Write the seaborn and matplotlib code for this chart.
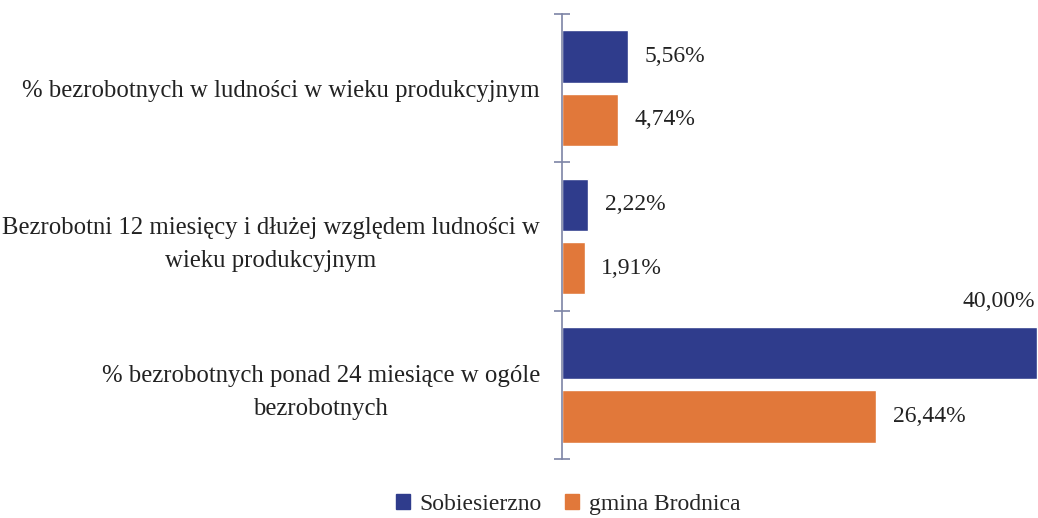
import pandas as pd
import matplotlib.pyplot as plt
import seaborn as sns
import numpy as np
from matplotlib.patches import Patch

categories = [
    "% bezrobotnych w ludności w wieku produkcyjnym",
    "Bezrobotni 12 miesięcy i dłużej względem ludności w\nwieku produkcyjnym",
    "% bezrobotnych ponad 24 miesiące w ogóle\nbezrobotnych",
]
series = ["Sobiesierzno", "gmina Brodnica"]
sobiesierzno = [5.56, 2.22, 40.00]
brodnica = [4.74, 1.91, 26.44]
colors = ["#2f3c8c", "#e1783a"]

data = pd.DataFrame({
    "kategoria": categories * 2,
    "seria": [series[0]] * 3 + [series[1]] * 3,
    "wartosc": sobiesierzno + brodnica,
})

sns.set_style("white")
plt.rcParams["font.family"] = ["Liberation Serif", "DejaVu Serif"]
fs = 17

fig = plt.figure(figsize=(10.38, 5.18), dpi=100)
ax = fig.add_axes([562 / 1038, 1 - 459 / 518, 475 / 1038, 445 / 518])

sns.barplot(data=data, y="kategoria", x="wartosc", hue="seria", orient="h",
            palette=colors, saturation=1, width=0.85, gap=0.17, legend=False,
            ax=ax, errorbar=None)

ax.set_xlim(0, 40)
ax.set_ylim(2.5, -0.5)
ax.set_xlabel("")
ax.set_ylabel("")
ax.set_xticks([])

# ticks on category boundaries, labels in between
ax.set_yticks([-0.5, 0.5, 1.5, 2.5])
ax.set_yticklabels([])
ax.set_yticks([0, 1, 2], minor=True)
ax.set_yticklabels(categories, minor=True, fontsize=17.8, color="#222222",
                   multialignment="center", linespacing=1.65)
ax.tick_params(axis="y", which="major", left=True, direction="inout", length=12,
               width=1.2, color="#7d84a6")
ax.tick_params(axis="y", which="minor", left=False, length=0, pad=16)

for s in ["top", "right", "bottom"]:
    ax.spines[s].set_visible(False)
ax.spines["left"].set_color("#7d84a6")
ax.spines["left"].set_linewidth(1.2)

xmax = ax.get_xlim()[1]
for cont, vals in zip(ax.containers, [sobiesierzno, brodnica]):
    labels = []
    for bar, v in zip(cont, vals):
        txt = f"{v:.2f}%".replace(".", ",")
        if v >= xmax:
            labels.append("")
            ax.text(v - 0.15, bar.get_y() - 0.1, txt, ha="right", va="bottom",
                    fontsize=fs, color="#222222")
        else:
            labels.append(txt)
    ax.bar_label(cont, labels=labels, padding=12, fontsize=fs, color="#222222")

handles = [Patch(color=c, label=s) for c, s in zip(colors, series)]
fig.legend(handles=handles, loc="center", bbox_to_anchor=(568 / 1038, 0.027), ncol=2,
           frameon=False, fontsize=fs, handlelength=0.6, handleheight=0.6,
           handletextpad=0.4, columnspacing=1.0)

fig.savefig("out.png", dpi=100)
